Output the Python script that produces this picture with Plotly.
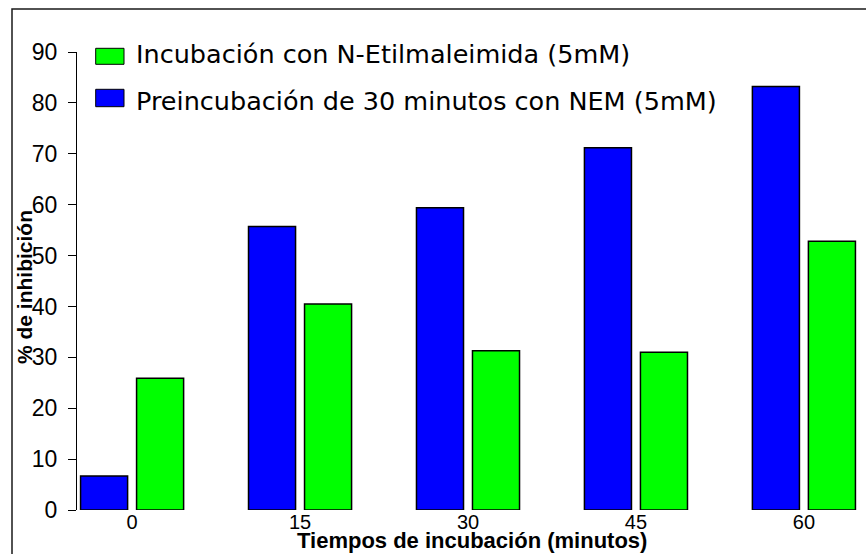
import plotly.graph_objects as go

# ---- data ----
tiempos = ["0", "15", "30", "45", "60"]
preincubacion = [6.7, 55.7, 59.4, 71.2, 83.2]
incubacion = [25.9, 40.5, 31.3, 31.0, 52.8]
serie_inc = "Incubación con N-Etilmaleimida (5mM)"
serie_pre = "Preincubación de 30 minutos con NEM (5mM)"
y_ticks = [0, 10, 20, 30, 40, 50, 60, 70, 80, 90]
x_title = "Tiempos de incubación (minutos)"
y_title = "% de inhibición"

BLUE = "#0000FF"
GREEN = "#00FF00"
FONT = "Arial, Liberation Sans, sans-serif"

fig = go.Figure()
fig.add_trace(go.Bar(x=tiempos, y=preincubacion, name=serie_pre,
                     marker=dict(color=BLUE, line=dict(color="black", width=1.5)),
                     showlegend=False))
fig.add_trace(go.Bar(x=tiempos, y=incubacion, name=serie_inc,
                     marker=dict(color=GREEN, line=dict(color="black", width=1.5)),
                     showlegend=False))

W, H = 866, 554
ml, mr, mt, mb = 77, 7, 52, 44
pw = W - ml - mr
ph = H - mt - mb

def px(x):
    return (x - ml) / pw

def py(y):
    return (H - mb - y) / ph

shapes = [
    # outer frame
    dict(type="rect", xref="paper", yref="paper",
         x0=px(12), x1=px(900), y0=py(600), y1=py(9),
         line=dict(color="#1a1a1a", width=1.5), fillcolor="rgba(0,0,0,0)", layer="below"),
    # legend swatches
    dict(type="rect", xref="paper", yref="paper",
         x0=px(95.7), x1=px(124), y0=py(64.3), y1=py(48.3),
         line=dict(color="black", width=1), fillcolor=GREEN),
    dict(type="rect", xref="paper", yref="paper",
         x0=px(95.7), x1=px(124), y0=py(106.7), y1=py(89.3),
         line=dict(color="black", width=1), fillcolor=BLUE),
]

annotations = [
    dict(text=serie_inc, xref="paper", yref="paper", x=px(134), y=py(53.5),
         xanchor="left", yanchor="middle", showarrow=False,
         font=dict(family="DejaVu Sans", size=25.5, color="black")),
    dict(text=serie_pre, xref="paper", yref="paper", x=px(134), y=py(101.5),
         xanchor="left", yanchor="middle", showarrow=False,
         font=dict(family="DejaVu Sans", size=25.5, color="black")),
    dict(text="<b>" + y_title + "</b>", xref="paper", yref="paper", x=px(24), y=py(287),
         xanchor="center", yanchor="middle", textangle=-90, showarrow=False,
         font=dict(family=FONT, size=21, color="black")),
    dict(text="<b>" + x_title + "</b>", xref="paper", yref="paper", x=px(472), y=py(554),
         xanchor="center", yanchor="bottom", showarrow=False, borderpad=0,
         font=dict(family=FONT, size=22, color="black")),
]

fig.update_layout(
    width=W, height=H,
    margin=dict(l=ml, r=mr, t=mt, b=mb, autoexpand=False),
    plot_bgcolor="white", paper_bgcolor="white",
    barmode="group", bargap=0.333, bargroupgap=0.16,
    shapes=shapes, annotations=annotations,
    showlegend=False,
)
fig.update_xaxes(type="category", range=[-0.328, 4.328], showline=False, ticks="",
                 showgrid=False, zeroline=False, ticklabelstandoff=-2,
                 tickfont=dict(family=FONT, size=20, color="black"))
fig.update_yaxes(range=[0, 90], tickvals=y_ticks, ticks="outside", ticklen=8,
                 tickcolor="black", tickwidth=1, showline=True, linecolor="black",
                 linewidth=1, showgrid=False, zeroline=False, ticklabelstandoff=6,
                 tickfont=dict(family=FONT, size=23, color="black"))

fig.write_html("out.html",
               config={"displayModeBar": False},
               post_script="document.body.style.margin='0';document.body.style.overflow='hidden';")
